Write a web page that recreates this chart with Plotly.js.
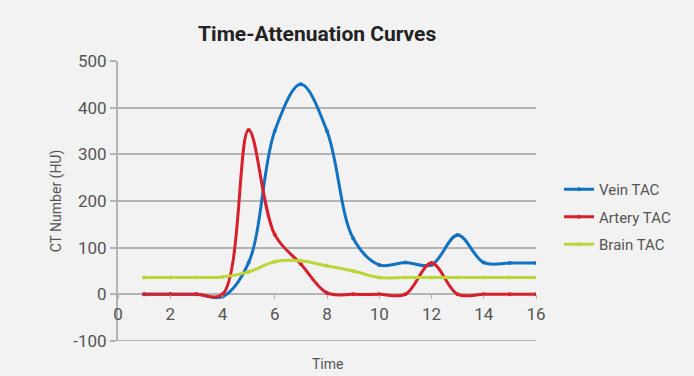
<!DOCTYPE html>
<html><head><meta charset="utf-8">
<script src="https://cdn.plot.ly/plotly-3.0.1.min.js"></script>
<style>html,body{margin:0;padding:0;background:#f2f2f2;}</style>
</head><body><div id="chart" style="width:694px;height:376px;"></div>
<script>
const time = [1,2,3,4,5,6,7,8,9,10,11,12,13,14,15,16];
const veinTAC   = [0,0,0,-5,68,350,450,350,120,63,68,63,127,68,67,67];
const arteryTAC = [0,0,0,0,352,128,65,3,0,0,0,67,0,0,0,0];
const brainTAC  = [36,36,36,37,48,70,72,61,50,36,36,36,36,36,36,36];
const seriesNames = ['Vein TAC','Artery TAC','Brain TAC'];
const seriesColors = ['#1272c1','#d7202c','#bcd63a'];
const seriesData = [veinTAC, arteryTAC, brainTAC];
const yTickVals = [-100,0,100,200,300,400,500];
const yTickText = ['-100','0','100','200','300','400','500'];
const xTickVals = [0,2,4,6,8,10,12,14,16];

const traces = seriesData.map((d,i)=>({
  x: time, y: d, name: seriesNames[i], type:'scatter', mode:'lines+markers',
  legendgroup: 'g'+i,
  line:{color:seriesColors[i], width:3, shape:'spline', smoothing:1},
  marker:{color:seriesColors[i], size:4, symbol:'circle'}
}));

const layout = {
  width:694, height:376,
  paper_bgcolor:'#f2f2f2', plot_bgcolor:'#f2f2f2',
  margin:{l:118, r:158, t:61, b:35},
  font:{family:'Roboto, sans-serif', color:'#555'},
  title:{text:'<b>Time-Attenuation Curves</b>', x:0.457, xanchor:'center', y:0.91, yanchor:'middle',
         font:{size:21, color:'#222', family:'Roboto, sans-serif'}},
  xaxis:{range:[0,16], tickvals:xTickVals, anchor:'free', position:1/6,
         showgrid:false, zeroline:false, showline:false, ticks:'outside', ticklen:4, tickcolor:'#b3b3b3', tickwidth:1,
         tickfont:{size:17, color:'#555'}},
  yaxis:{range:[-100,500], tickvals:yTickVals, ticktext:yTickText, showgrid:true, gridcolor:'#b3b3b3', gridwidth:2,
         zeroline:true, zerolinecolor:'#b3b3b3', zerolinewidth:2,
         showline:true, linecolor:'#b3b3b3', linewidth:2, ticks:'outside', ticklen:6, tickcolor:'#b3b3b3', tickwidth:2,
         tickfont:{size:17, color:'#555'},
         title:{text:'CT Number (HU)', font:{size:14, color:'#555'}, standoff:8}},
  shapes:[{type:'line', xref:'paper', yref:'y', x0:-0.015, x1:1, y0:-100, y1:-100,
           line:{color:'#b3b3b3', width:2}}],
  showlegend:true,
  legend:{x:1.055, y:0.6, xanchor:'left', yanchor:'top', bgcolor:'rgba(0,0,0,0)',
          font:{size:15, color:'#555'}, tracegroupgap:5},
  annotations:[{text:'Time', xref:'paper', yref:'paper', x:0.5, y:-0.045, yanchor:'top', showarrow:false,
                font:{size:14, color:'#555'}}]
};
Plotly.newPlot('chart', traces, layout, {displayModeBar:false});
</script></body></html>
